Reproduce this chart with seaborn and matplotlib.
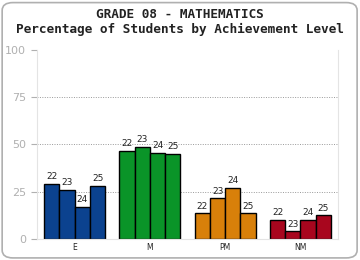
import pandas as pd
import numpy as np
import matplotlib
matplotlib.use("Agg")
import matplotlib.pyplot as plt
import seaborn as sns
from matplotlib.patches import FancyBboxPatch

levels = ["E", "M", "PM", "NM"]
years = ["22", "23", "24", "25"]
level_colors = ["#0b428f", "#0a9428", "#d8800a", "#a8061e"]
# percent of students, one list per year (E, M, PM, NM)
pct_22 = [29, 46.5, 13.5, 10]
pct_23 = [26, 48.5, 21.5, 4]
pct_24 = [17, 45.5, 27, 10]
pct_25 = [28, 45, 13.5, 12.5]

df = pd.DataFrame({
    "level": levels * 4,
    "year": [y for y in years for _ in levels],
    "pct": pct_22 + pct_23 + pct_24 + pct_25,
})

sns.set_style("white")
fig = plt.figure(figsize=(3.6, 2.6), dpi=100)
ax = fig.add_axes([0.103, 0.081, 0.836, 0.727])

sns.barplot(data=df, x="level", y="pct", hue="year", order=levels, hue_order=years,
            width=0.81, edgecolor="black", linewidth=1.0, legend=False, ax=ax)

# color by level, label with year
for cont, yr in zip(ax.containers, years):
    for i, bar in enumerate(cont):
        bar.set_facecolor(level_colors[i])
    ax.bar_label(cont, labels=[yr] * len(levels), padding=2, fontsize=6.5, color="#222222")

ax.set_ylim(0, 100)
ax.set_yticks([0, 25, 50, 75, 100])
ax.set_xlabel("")
ax.set_ylabel("")
for y in [25, 50, 75]:
    ax.axhline(y, color="#999999", linestyle=(0, (1, 1.5)), linewidth=0.7, zorder=0)
ax.tick_params(axis="y", colors="#b0b0b0", labelsize=8, length=4, width=0.8, pad=4, direction="out", left=True)
ax.tick_params(axis="x", labelsize=5.5, length=0, pad=3, labelcolor="#222222")
for s in ["left", "bottom", "right"]:
    ax.spines[s].set_color("#e4e4e4")
    ax.spines[s].set_linewidth(0.8)
ax.spines["top"].set_visible(False)

fig.text(0.5, 0.945, "GRADE 08 - MATHEMATICS", ha="center", va="center",
         family="DejaVu Sans Mono", fontweight="bold", fontsize=9.2, color="#222222")
fig.text(0.5, 0.888, "Percentage of Students by Achievement Level", ha="center", va="center",
         family="DejaVu Sans Mono", fontweight="bold", fontsize=9.2, color="#222222")

border = FancyBboxPatch((0.006, 0.008), 0.986, 0.982, boxstyle="round,pad=0,rounding_size=0.03",
                        transform=fig.transFigure, fill=False, edgecolor="#b0b0b0", linewidth=1.2)
fig.patches.append(border)

fig.savefig("out.png", dpi=100)
